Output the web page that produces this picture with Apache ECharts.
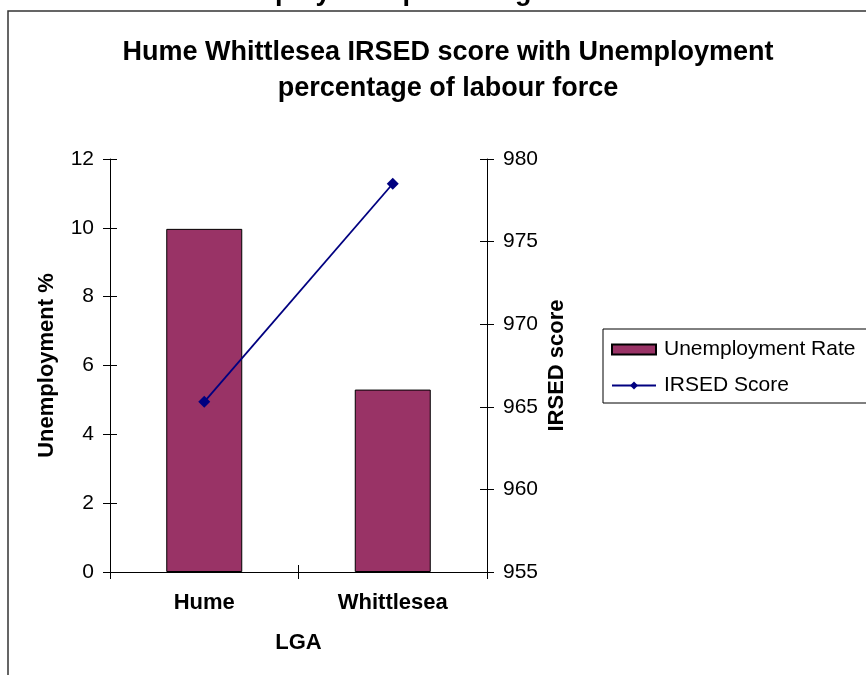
<!DOCTYPE html>
<html>
<head>
<meta charset="utf-8">
<script src="https://cdn.jsdelivr.net/npm/echarts@6/dist/echarts.min.js"></script>
<style>
  html, body { margin: 0; padding: 0; background: #fff; }
  #chart { width: 866px; height: 675px; }
</style>
</head>
<body>
<div id="chart"></div>
<script>
// Local government areas on the category axis
const categories = ['Hume', 'Whittlesea'];
// Unemployment rate, % of labour force (left axis)
const unemploymentRate = [9.97, 5.3];
// IRSED index score (right axis)
const irsedScore = [965.3, 978.5];

const FONT = '"Liberation Sans", Arial, sans-serif';
const AXIS_COLOR = '#000';

const chart = echarts.init(document.getElementById('chart'), null, { renderer: 'canvas' });

const tickOut = { show: true, inside: false, length: 7, lineStyle: { color: AXIS_COLOR, width: 1 } };
const tickIn = { show: true, inside: true, length: 7, lineStyle: { color: AXIS_COLOR, width: 1 } };
const tickLabel = { color: '#000', fontFamily: FONT, fontSize: 21 };
const boldName = { color: '#000', fontFamily: FONT, fontSize: 22, fontWeight: 'bold' };

chart.setOption({
  animation: false,
  backgroundColor: '#fff',
  graphic: [
    // outer frame of the chart area
    {
      type: 'rect', silent: true, z: 0,
      shape: { x: 8, y: 11, width: 900, height: 700 },
      style: { fill: 'none', stroke: '#333', lineWidth: 1.5 }
    },
    // heading of the preceding chart, running off the top edge
    {
      type: 'text', x: 200, y: -21, silent: true, z: 10,
      style: {
        text: 'Unemployment percentage of labour force',
        fill: '#000', font: 'bold 27px ' + FONT, verticalAlign: 'top', align: 'left'
      }
    }
  ],
  title: {
    text: 'Hume Whittlesea IRSED score with Unemployment\npercentage of labour force',
    left: 443, top: 30, textAlign: 'center',
    textStyle: { color: '#000', fontFamily: FONT, fontSize: 27, fontWeight: 'bold', lineHeight: 36 }
  },
  legend: {
    orient: 'vertical', left: 603, top: 329,
    padding: [10, 20, 7, 8],
    itemGap: 15, itemWidth: 44, itemHeight: 10,
    borderColor: '#000', borderWidth: 1,
    textStyle: { color: '#000', fontFamily: FONT, fontSize: 21, lineHeight: 21, padding: [0, 0, 0, 3] },
    data: [
      { name: 'Unemployment Rate', icon: 'rect' },
      { name: 'IRSED Score' }
    ]
  },
  grid: { left: 110, right: 379, top: 159, bottom: 103, containLabel: false },
  xAxis: [
    {
      type: 'category', data: categories, position: 'bottom',
      axisLine: { show: true, lineStyle: { color: AXIS_COLOR, width: 1 } },
      axisTick: tickOut,
      axisLabel: { ...boldName, margin: 20 },
      name: 'LGA', nameLocation: 'middle', nameGap: 60, nameTextStyle: boldName,
      splitLine: { show: false }
    },
    {
      type: 'category', data: categories, position: 'bottom',
      axisLine: { show: false }, axisTick: tickIn, axisLabel: { show: false },
      splitLine: { show: false }
    }
  ],
  yAxis: [
    {
      type: 'value', position: 'left', min: 0, max: 12, interval: 2,
      axisLine: { show: true, lineStyle: { color: AXIS_COLOR, width: 1 } },
      axisTick: tickOut, axisLabel: { ...tickLabel, margin: 16 },
      splitLine: { show: false },
      name: 'Unemployment %', nameLocation: 'middle', nameRotate: 90, nameGap: 52,
      nameTextStyle: boldName
    },
    {
      type: 'value', position: 'right', min: 955, max: 980, interval: 5,
      axisLine: { show: true, lineStyle: { color: AXIS_COLOR, width: 1 } },
      axisTick: tickOut, axisLabel: { ...tickLabel, margin: 16 },
      splitLine: { show: false },
      name: 'IRSED score', nameLocation: 'middle', nameRotate: 90, nameGap: 59,
      nameTextStyle: boldName
    },
    {
      type: 'value', position: 'left', min: 0, max: 12, interval: 2,
      axisLine: { show: false }, axisTick: tickIn, axisLabel: { show: false },
      splitLine: { show: false }
    },
    {
      type: 'value', position: 'right', min: 955, max: 980, interval: 5,
      axisLine: { show: false }, axisTick: tickIn, axisLabel: { show: false },
      splitLine: { show: false }
    }
  ],
  series: [
    {
      name: 'Unemployment Rate', type: 'bar', yAxisIndex: 0, xAxisIndex: 0,
      data: unemploymentRate, barWidth: 76,
      itemStyle: { color: '#993366', borderColor: '#000', borderWidth: 1 }
    },
    {
      name: 'IRSED Score', type: 'line', yAxisIndex: 1, xAxisIndex: 0,
      data: irsedScore, symbol: 'diamond', symbolSize: 12,
      lineStyle: { color: '#000080', width: 1.8 },
      itemStyle: { color: '#000080' }
    }
  ]
});
</script>
</body>
</html>
